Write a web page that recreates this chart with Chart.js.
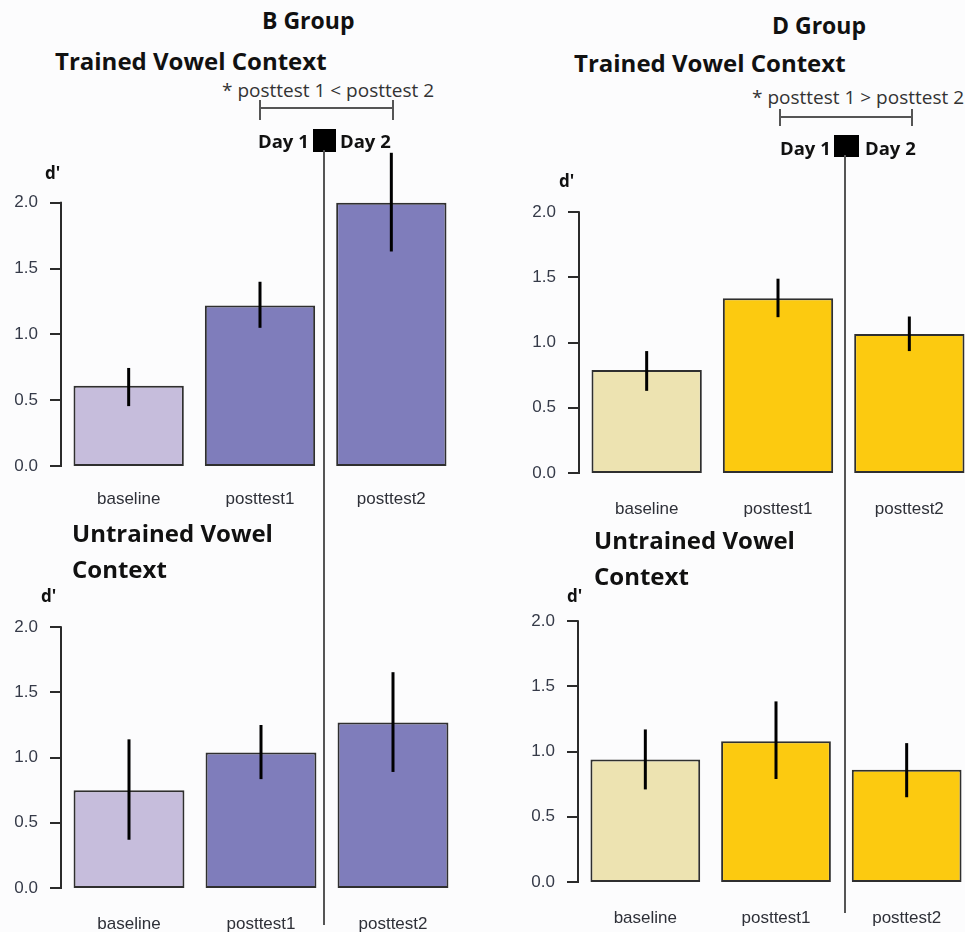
<!DOCTYPE html>
<html>
<head>
<meta charset="utf-8">
<script src="https://cdn.jsdelivr.net/npm/chart.js@4.4.0/dist/chart.umd.min.js"></script>
<style>
  html, body { margin: 0; padding: 0; background: #fcfcfd; overflow: hidden; }
  #page { position: relative; width: 965px; height: 932px; overflow: hidden; }
  .box { position: absolute; }
  .txt { position: absolute; white-space: nowrap; color: #111; transform: translateY(-50%); }
  .title { font: bold 24px "Open Sans", sans-serif; }
  .group { font: bold 23px "Open Sans", sans-serif; }
  .note { font: 19px "Open Sans", sans-serif; color: #333; }
  .day { font: bold 18.5px "Open Sans", sans-serif; }
  .dp { font: bold 17px "Open Sans", sans-serif; }
  .ln { position: absolute; background: #555; }
  .sq { position: absolute; background: #000; }
</style>
</head>
<body>
<div id="page">
  <div class="box" style="left:0px;top:117px;width:457px;height:394px"><canvas id="bTrainedChart"></canvas></div>
  <div class="box" style="left:0px;top:542px;width:459px;height:391px"><canvas id="bUntrainedChart"></canvas></div>
  <div class="box" style="left:518px;top:127px;width:457px;height:391px"><canvas id="dTrainedChart"></canvas></div>
  <div class="box" style="left:517px;top:536px;width:455px;height:391px"><canvas id="dUntrainedChart"></canvas></div>

  <!-- B group annotations -->
  <div class="txt group" style="left:262px;top:20px">B Group</div>
  <div class="txt title" style="left:55px;top:60px">Trained Vowel Context</div>
  <div class="txt note" style="left:222px;top:90px">* posttest 1 &lt; posttest 2</div>
  <div class="ln" style="left:260px;top:107px;width:133px;height:2px"></div>
  <div class="ln" style="left:259px;top:100px;width:2px;height:20px"></div>
  <div class="ln" style="left:392px;top:100px;width:2px;height:20px"></div>
  <div class="txt day" style="left:258px;top:140px">Day 1</div>
  <div class="txt day" style="left:340px;top:140px">Day 2</div>
  <div class="sq" style="left:313px;top:129px;width:23px;height:23px"></div>
  <div class="ln" style="left:323px;top:150px;width:2px;height:775px"></div>
  <div class="txt dp" style="left:45px;top:172px">d'</div>
  <div class="txt title" style="left:72px;top:532px">Untrained Vowel</div>
  <div class="txt title" style="left:72px;top:568px">Context</div>
  <div class="txt dp" style="left:41px;top:595px">d'</div>

  <!-- D group annotations -->
  <div class="txt group" style="left:772px;top:25px">D Group</div>
  <div class="txt title" style="left:574px;top:62px">Trained Vowel Context</div>
  <div class="txt note" style="left:752px;top:97px">* posttest 1 &gt; posttest 2</div>
  <div class="ln" style="left:780px;top:116px;width:132px;height:2px"></div>
  <div class="ln" style="left:779px;top:109px;width:2px;height:17px"></div>
  <div class="ln" style="left:911px;top:109px;width:2px;height:17px"></div>
  <div class="txt day" style="left:780px;top:147px">Day 1</div>
  <div class="txt day" style="left:865px;top:147px">Day 2</div>
  <div class="sq" style="left:834px;top:135px;width:25px;height:22px"></div>
  <div class="ln" style="left:844px;top:155px;width:2px;height:758px"></div>
  <div class="txt dp" style="left:559px;top:180px">d'</div>
  <div class="txt title" style="left:594px;top:539px">Untrained Vowel</div>
  <div class="txt title" style="left:594px;top:575px">Context</div>
  <div class="txt dp" style="left:567px;top:595px">d'</div>
</div>

<script>
var categories = ["baseline", "posttest1", "posttest2"];
var yTicks = [0, 0.5, 1.0, 1.5, 2.0];

var bTrained   = [0.61, 1.22, 2.00];
var bTrainedLo = [0.455, 1.05, 1.63];
var bTrainedHi = [0.745, 1.40, 2.38];

var bUntrained   = [0.75, 1.04, 1.27];
var bUntrainedLo = [0.37, 0.835, 0.89];
var bUntrainedHi = [1.14, 1.25, 1.655];

var dTrained   = [0.79, 1.34, 1.065];
var dTrainedLo = [0.63, 1.195, 0.935];
var dTrainedHi = [0.935, 1.49, 1.20];

var dUntrained   = [0.94, 1.08, 0.86];
var dUntrainedLo = [0.71, 0.79, 0.65];
var dUntrainedHi = [1.17, 1.385, 1.065];

var bColors = ["#c6bddc", "#7f7dbb", "#7f7dbb"];
var dColors = ["#ede3b1", "#fcca10", "#fcca10"];

// axis line + tick marks like R, plus error bars
var rStyle = {
    id: "rStyle",
    afterDatasetsDraw: function(chart, args, opts) {
        var ctx = chart.ctx;
        var y = chart.scales.y;
        var meta = chart.getDatasetMeta(0);
        var x0 = Math.round(chart.chartArea.left) - 2;

        ctx.save();
        ctx.strokeStyle = "#2b2b2b";
        ctx.lineWidth = 2;
        ctx.beginPath();
        ctx.moveTo(x0, y.getPixelForValue(0) + 1);
        ctx.lineTo(x0, y.getPixelForValue(2) - 1);
        for (var i = 0; i < yTicks.length; i++) {
            var py = Math.round(y.getPixelForValue(yTicks[i]));
            ctx.moveTo(x0 - 11, py);
            ctx.lineTo(x0, py);
        }
        ctx.stroke();

        ctx.strokeStyle = "#000";
        ctx.lineWidth = 3;
        for (var j = 0; j < meta.data.length; j++) {
            var bx = meta.data[j].x;
            ctx.beginPath();
            ctx.moveTo(bx, y.getPixelForValue(opts.lo[j]));
            ctx.lineTo(bx, y.getPixelForValue(opts.hi[j]));
            ctx.stroke();
        }
        ctx.restore();
    }
};

function makeChart(id, values, lo, hi, colors, labelPad) {
    return new Chart(document.getElementById(id), {
        type: "bar",
        data: {
            labels: categories,
            datasets: [{
                data: values,
                backgroundColor: colors,
                borderColor: "#2f2f2f",
                borderWidth: 2,
                borderSkipped: false,
                barPercentage: 0.84,
                categoryPercentage: 1
            }]
        },
        options: {
            responsive: true,
            maintainAspectRatio: false,
            animation: false,
            layout: { padding: { top: 20, left: 0, right: 0, bottom: 0 } },
            plugins: {
                legend: { display: false },
                tooltip: { enabled: false },
                rStyle: { lo: lo, hi: hi }
            },
            scales: {
                x: {
                    grid: { display: false, drawTicks: false },
                    border: { display: false },
                    ticks: { padding: labelPad, color: "#2e3038", font: { family: "Liberation Sans", size: 17 } },
                    afterFit: function(axis) { axis.height = 45; }
                },
                y: {
                    min: 0,
                    max: 2.5,
                    grid: { display: false, drawTicks: true, tickLength: 20 },
                    border: { display: false },
                    afterBuildTicks: function(axis) {
                        axis.ticks = yTicks.map(function(v) { return { value: v }; });
                    },
                    ticks: {
                        padding: 5,
                        color: "#353a48",
                        font: { family: "Liberation Sans", size: 17 },
                        callback: function(v) { return Number(v).toFixed(1); }
                    },
                    afterFit: function(axis) { axis.width = 63; }
                }
            }
        },
        plugins: [rStyle]
    });
}

makeChart("bTrainedChart", bTrained, bTrainedLo, bTrainedHi, bColors, 23);
makeChart("bUntrainedChart", bUntrained, bUntrainedLo, bUntrainedHi, bColors, 26);
makeChart("dTrainedChart", dTrained, dTrainedLo, dTrainedHi, dColors, 26);
makeChart("dUntrainedChart", dUntrained, dUntrainedLo, dUntrainedHi, dColors, 26);
</script>
</body>
</html>
